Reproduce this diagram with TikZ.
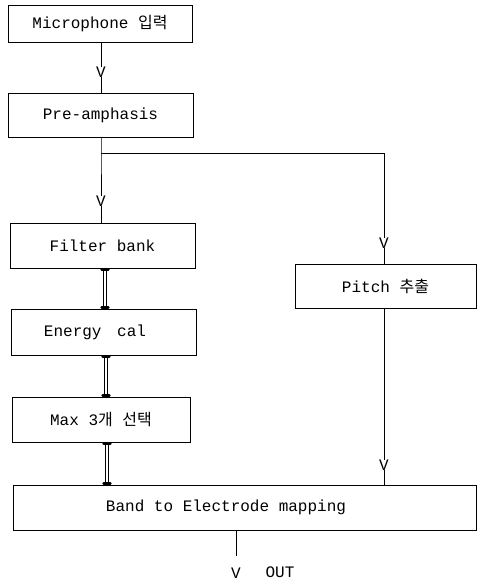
\documentclass[tikz,border=0pt]{standalone}
\usepackage{fontspec}
\setmonofont{Liberation Mono}
\newfontfamily\kr{Noto Sans CJK KR}
\usetikzlibrary{calc}
\tikzset{
  box/.style={draw, line width=0.9pt, inner sep=0pt, font=\ttfamily\fontsize{16}{18}\selectfont},
  lbl/.style={inner sep=0pt, font=\ttfamily\fontsize{16}{18}\selectfont},
  vmark/.style={inner sep=0pt, font=\ttfamily\fontsize{16}{18}\selectfont},
  wire/.style={line width=0.8pt},
  rail/.style={line width=0.9pt, double=white, double distance=2.8pt},
  railcap/.style={line width=2.4pt, line cap=round}
}
\begin{document}
\begin{tikzpicture}[x=1pt,y=-1pt]
\useasboundingbox (0,0) rectangle (477,582);
% boxes
\node[box, minimum width=184pt, minimum height=37pt] (mic) at (100,23.5) {Microphone {\kr 입력}};
\node[box, minimum width=185pt, minimum height=44pt] (pre) at (100.5,115) {Pre-amphasis};
\node[box, minimum width=185pt, minimum height=45pt] (fil) at (102.5,245.5) {Filter bank};
\node[box, minimum width=185pt, minimum height=46pt] (ene) at (103.5,332) {};
\node[lbl] (enet) at (95,332) {Energy\hspace{6pt} cal};
\node[box, minimum width=178pt, minimum height=45pt] (max) at (101,419.5) {Max 3{\kr 개} {\kr 선택}};
\node[box, minimum width=463pt, minimum height=45pt] (band) at (244.5,507.5) {};
\node[lbl] (bandt) at (226,507.5) {Band to Electrode mapping};
\node[box, minimum width=181pt, minimum height=44pt] (pit) at (385.5,286) {Pitch {\kr 추출}};
% V markers
\node[vmark] (v1) at (101,72) {V};
\node[vmark] (v2) at (101,201) {V};
\node[vmark] (v3) at (384,243) {V};
\node[vmark] (v4) at (384,465) {V};
\node[vmark] (v5) at (236,573) {V};
\node[lbl] (out) at (280,572) {OUT};
\coordinate (br) at (101,153);
\coordinate (brr) at (384,153);
\coordinate (oend) at (236,556);
% connectors
\draw[wire] (mic.south -| v1) -- (v1.north);
\draw[wire] (v1.south) -- (pre.north -| v1);
\draw[wire] (pre.south -| br) -- (br) -- (v2.north);
\draw[wire] (v2.south) -- (fil.north -| v2);
\draw[wire] (br) -- (brr) -- (v3.north);
\draw[wire] (v3.south) -- (pit.north -| v3);
\draw[wire] (pit.south -| v4) -- (v4.north);
\draw[wire] (v4.south) -- (band.north -| v4);
\draw[wire] (band.south -| oend) -- (oend);
% rails
\foreach \a/\b/\x in {fil/ene/105, ene/max/106, max/band/107}{
  \draw[rail] (\a.south -| \x,0) -- (\b.north -| \x,0);
  \draw[railcap] ($(\a.south -| \x,0)+(-3.5,1.2)$) -- ($(\a.south -| \x,0)+(3.5,1.2)$);
  \draw[railcap] ($(\b.north -| \x,0)+(-3.5,-1.2)$) -- ($(\b.north -| \x,0)+(3.5,-1.2)$);
}
\end{tikzpicture}
\end{document}
